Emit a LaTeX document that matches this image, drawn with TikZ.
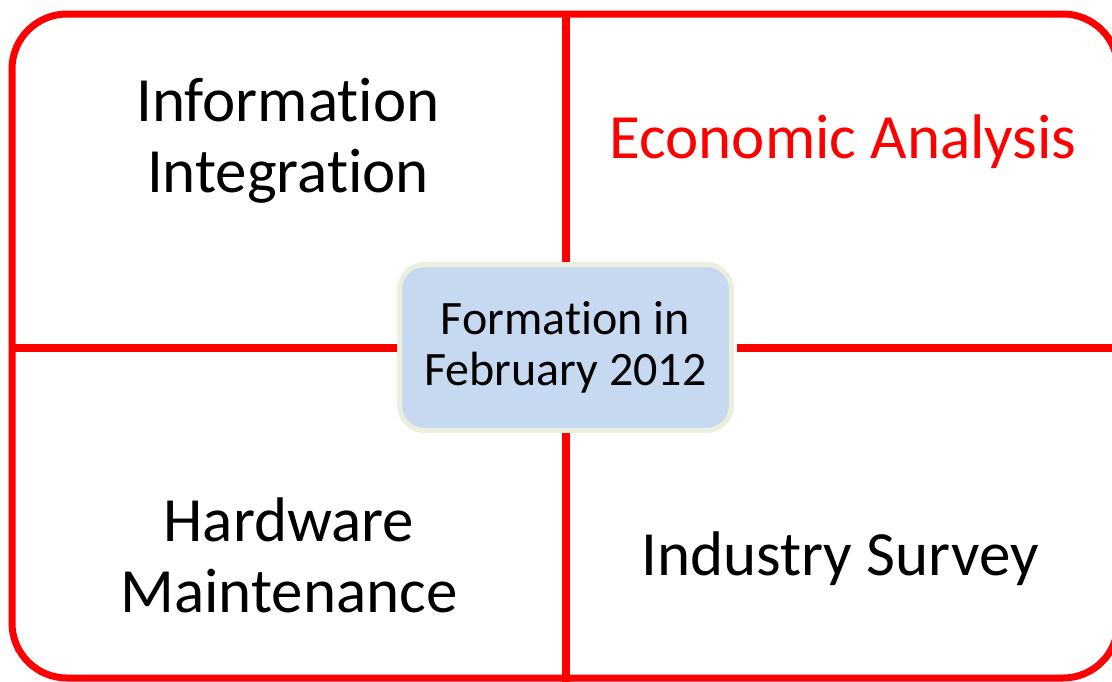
\documentclass[tikz,border=0pt]{standalone}
\usepackage{fontspec}
\setmainfont[Ligatures=NoCommon]{Carlito}
\usetikzlibrary{positioning}
\definecolor{boxblue}{HTML}{C6D9F1}
\definecolor{boxrim}{HTML}{EBF0DE}

\begin{document}
\begin{tikzpicture}[x=1pt,y=-1pt,
		frame/.style={draw=red, line width=7pt, rounded corners=55pt, minimum width=1106pt, minimum height=664pt},
		centre/.style={draw=boxrim, fill=boxblue, line width=5pt, rounded corners=25pt, minimum width=332pt, minimum height=166pt, align=center, font=\fontsize{48}{51}\selectfont},
		part/.style={align=center, inner sep=0pt, font=\fontsize{63}{71}\selectfont},
		divide/.style={draw=red, line width=8pt, shorten <=2.5pt}]
	\useasboundingbox (0,0) rectangle (1112,681);
	\node[frame] (frame) at (565,346) {};
	\node[centre] (form) at (565.5,347.5) {Formation in\\February 2012};
	\draw[divide] (form.north) -- (form.north |- frame.north)
		(form.south) -- (form.south |- frame.south)
		(form.west) -- (form.west -| frame.west)
		(form.east) -- (form.east -| frame.east);

	\node[part] (info) at (288,141) {Information\\Integration};
	\node[part, text=red] (econ) at (843,142) {Economic Analysis};
	\node[part] (hard) at (289,555) {Hardware\\Maintenance};
	\node[part] (indu) at (840,559) {Industry Survey};
\end{tikzpicture}
\end{document}
